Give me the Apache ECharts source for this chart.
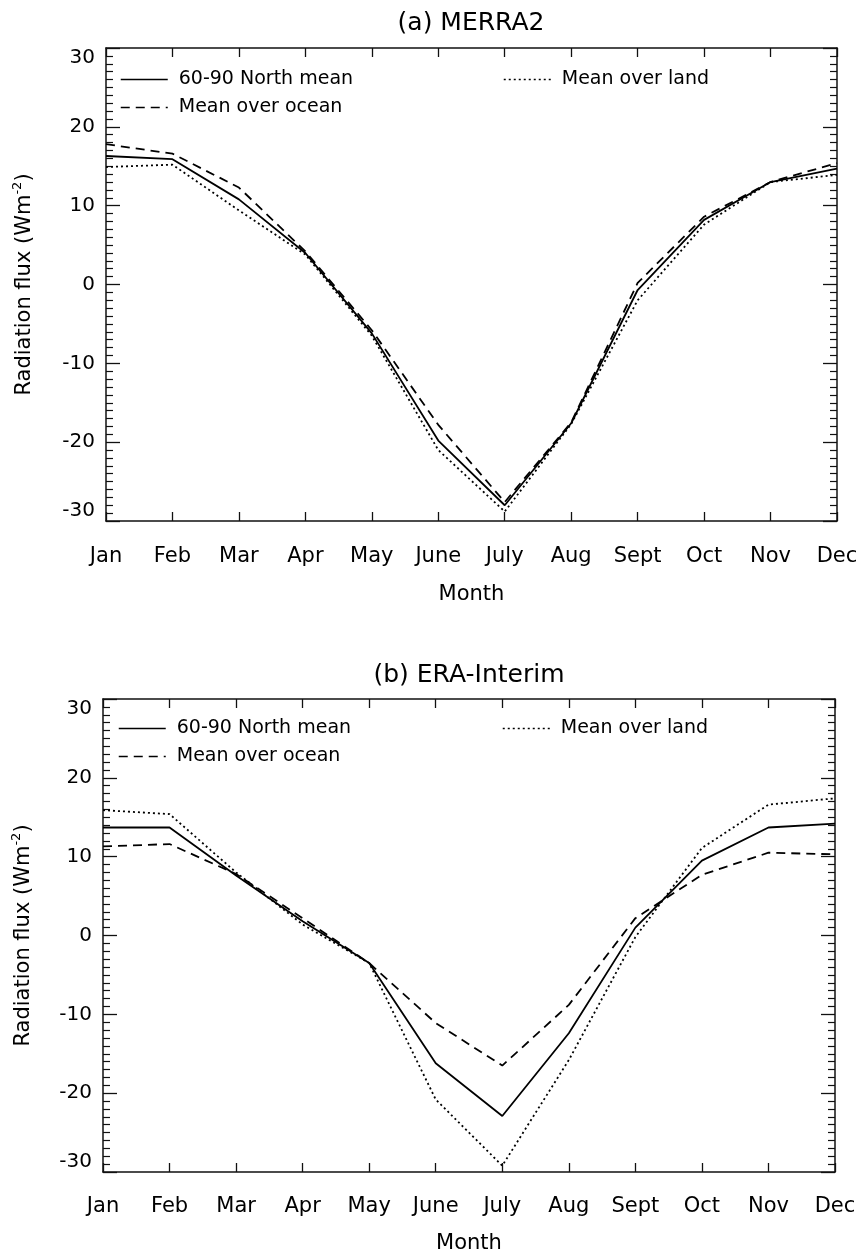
<!DOCTYPE html>
<html>
<head>
<meta charset="utf-8">
<script src="https://cdn.jsdelivr.net/npm/echarts@6/dist/echarts.min.js"></script>
<style>
  html, body { margin: 0; padding: 0; background: #fff; }
  #chart { width: 860px; height: 1252px; }
</style>
</head>
<body>
<div id="chart"></div>
<script>
// months on the x axis
var months = ["Jan", "Feb", "Mar", "Apr", "May", "June", "July", "Aug", "Sept", "Oct", "Nov", "Dec"];

// (a) MERRA2, W m-2
var merraMean  = [16.3, 15.9, 10.8, 4.0, -6.2, -19.8, -28.0, -17.6, -0.7, 8.2, 13.0, 14.7];
var merraOcean = [17.8, 16.6, 12.3, 4.2, -5.8, -17.8, -27.6, -17.5, 0.2, 8.6, 13.0, 15.4];
var merraLand  = [14.9, 15.2, 9.4, 3.8, -6.5, -21.0, -28.8, -17.7, -2.0, 7.6, 13.0, 13.9];

// (b) ERA-Interim, W m-2
var eraMean  = [13.7, 13.7, 7.6, 1.8, -3.5, -16.2, -22.9, -12.4, 1.0, 9.5, 13.7, 14.2];
var eraOcean = [11.3, 11.6, 7.8, 2.2, -3.5, -11.1, -16.5, -8.8, 2.2, 7.7, 10.5, 10.3];
var eraLand  = [15.9, 15.4, 8.0, 1.4, -3.5, -20.8, -29.2, -15.8, -0.2, 11.1, 16.6, 17.4];

var yTicks = { min: -30, max: 30, step: 10 };
var seriesNames = ["60-90 North mean", "Mean over ocean", "Mean over land"];

var FONT = "DejaVu Sans";
var INK = "#111";

function xAxes(grid, labelMargin, nameGap) {
    return [
        {
            gridIndex: grid, type: "category", data: months, boundaryGap: false,
            axisLine: { onZero: false, lineStyle: { color: INK, width: 1.5 } },
            axisTick: { inside: true, length: 9, lineStyle: { color: INK, width: 1.3 } },
            axisLabel: { margin: labelMargin, fontSize: 21, color: "#000", fontFamily: FONT, interval: 0 },
            name: "Month", nameLocation: "middle", nameGap: nameGap,
            nameTextStyle: { fontSize: 21, color: "#000", fontFamily: FONT }
        },
        {
            gridIndex: grid, type: "category", data: months, boundaryGap: false, position: "top",
            axisLine: { onZero: false, lineStyle: { color: INK, width: 1.5 } },
            axisTick: { inside: true, length: 9, lineStyle: { color: INK, width: 1.3 } },
            axisLabel: { show: false }
        }
    ];
}

function yAxes(grid, nameGap) {
    var base = {
        gridIndex: grid, type: "value", min: yTicks.min, max: yTicks.max, interval: yTicks.step,
        axisLine: { show: true, onZero: false, lineStyle: { color: INK, width: 1.5 } },
        axisTick: { show: true, inside: true, length: 14, lineStyle: { color: INK, width: 1.3 } },
        minorTick: { show: true, splitNumber: 10, length: 7, lineStyle: { color: INK, width: 1.2 } },
        splitLine: { show: false },
        minorSplitLine: { show: false }
    };
    var left = Object.assign({}, base, {
        position: "left",
        axisLabel: {
            margin: 11, fontSize: 20, color: "#000", fontFamily: FONT,
            verticalAlignMinLabel: "bottom", verticalAlignMaxLabel: "top"
        },
        name: "Radiation flux (Wm{sup|-2})", nameLocation: "middle", nameGap: nameGap,
        nameTextStyle: {
            fontSize: 21, lineHeight: 28, color: "#000", fontFamily: FONT,
            rich: { sup: { fontSize: 13, lineHeight: 13, color: "#000", fontFamily: FONT, verticalAlign: "top" } }
        }
    });
    var right = Object.assign({}, base, { position: "right", axisLabel: { show: false } });
    return [left, right];
}

function lineSeries(name, data, xi, yi, type) {
    return {
        name: name, type: "line", data: data, xAxisIndex: xi, yAxisIndex: yi,
        symbol: "none", silent: true, color: "#000",
        lineStyle: { color: "#000", width: 1.8, type: type }
    };
}

function legends(top, leftA, leftB) {
    var common = {
        orient: "vertical", top: top, itemWidth: 47, itemHeight: 14, itemGap: 9,
        padding: 0, selectedMode: false,
        itemStyle: { opacity: 0 },
        lineStyle: { width: 1.5 },
        textStyle: { fontSize: 19, color: "#000", fontFamily: FONT, padding: [0, 0, 0, 6] }
    };
    return [
        Object.assign({}, common, { left: leftA, data: [seriesNames[0], seriesNames[1]] }),
        Object.assign({}, common, { left: leftB, data: [seriesNames[2]] })
    ];
}

var dashed = [9, 6];
var dotted = [2, 3];

var chart = echarts.init(document.getElementById("chart"));
chart.setOption({
    backgroundColor: "#fff",
    animation: false,
    title: [
        { text: "(a) MERRA2", left: 471, top: 11, textAlign: "center", padding: 0,
          textStyle: { fontSize: 25, fontWeight: "normal", color: "#000", fontFamily: FONT } },
        { text: "(b) ERA-Interim", left: 469, top: 663, textAlign: "center", padding: 0,
          textStyle: { fontSize: 25, fontWeight: "normal", color: "#000", fontFamily: FONT } }
    ],
    legend: legends(70, 120, 503).concat(legends(719, 118, 502)),
    grid: [
        { left: 106, right: 23, top: 48, height: 473, outerBoundsMode: "none" },
        { left: 103, right: 25, top: 699, height: 473, outerBoundsMode: "none" }
    ],
    xAxis: xAxes(0, 25, 63).concat(xAxes(1, 24, 61)),
    yAxis: yAxes(0, 67).concat(yAxes(1, 65)),
    series: [
        lineSeries(seriesNames[0], merraMean, 0, 0, "solid"),
        lineSeries(seriesNames[1], merraOcean, 0, 0, dashed),
        lineSeries(seriesNames[2], merraLand, 0, 0, dotted),
        lineSeries(seriesNames[0], eraMean, 2, 2, "solid"),
        lineSeries(seriesNames[1], eraOcean, 2, 2, dashed),
        lineSeries(seriesNames[2], eraLand, 2, 2, dotted)
    ]
});
</script>
</body>
</html>
